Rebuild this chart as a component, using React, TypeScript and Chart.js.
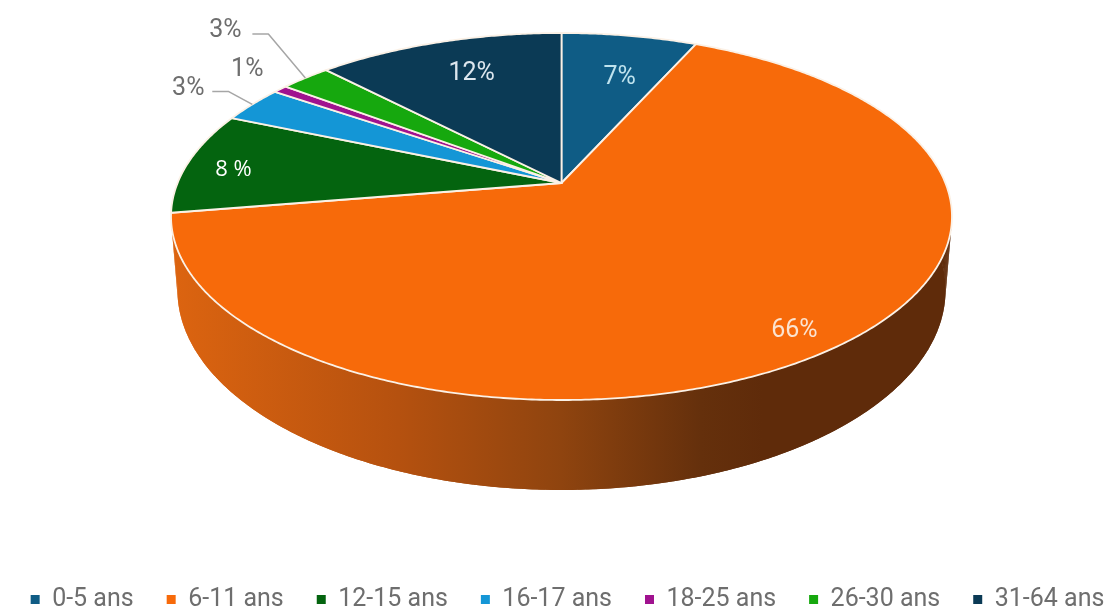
import React, { useEffect, useRef } from "react";
import { Chart, registerables } from "chart.js";

Chart.register(...registerables);

const categories = ["0-5 ans", "6-11 ans", "12-15 ans", "16-17 ans", "18-25 ans", "26-30 ans", "31-64 ans"];
const shares = [6.7, 65.7, 9.0, 3.2, 0.7, 2.5, 12.2];
const valueLabels = ["7%", "66%", "8 %", "3%", "1%", "3%", "12%"];
const sliceColors = ["#0F5C85", "#F76A0A", "#04640F", "#1496D6", "#A0128F", "#16A80E", "#0B3A55"];

// Text styling and offsets of each label from the middle of its slice's rim.
const labelColors = ["#BFE3EE", "#FBE3D0", "#FFFFFF", "#6E6E6E", "#6E6E6E", "#6E6E6E", "#DCE6EE"];
const labelOffsets = [[-10, 42], [-41, -17], [45, 7], [-64, -16], [-33, -19], [-80, -47], [33, 31]];
const leaderOffsets: Record<number, number[][]> = {
  3: [[0, 0], [-24, -13], [-40, -13]],
  5: [[0, 0], [-37, -44], [-53, -44]],
};

// Perspective projection of the unit disc onto the page.
const top3d = { cx: 561.5, a: 143.98, b: 183, c: -0.1826, d: 383.9 };
const bottom3d = { cx: 561.5, a: 147, b: 253.5, c: -0.1826, d: 377.6 };
const project = (p: typeof top3d, angle: number, r = 1) => {
  const u = Math.cos(angle) * r;
  const v = Math.sin(angle) * r;
  const w = 1 + p.c * v;
  return { x: p.cx + (p.d * u) / w, y: (p.a * v + p.b) / w };
};

const pie3d = {
  id: "pie3d",
  beforeDatasetsDraw(chart: any) {
    const { ctx } = chart;
    const arcs = chart.getDatasetMeta(0).data;
    const STEP = Math.PI / 360;

    // Side wall: only the part of each slice that faces the viewer
    const grad = ctx.createLinearGradient(173, 0, 949, 0);
    const stops: [number, string][] = [
      [0, "#DC6410"], [0.29, "#B5510F"], [0.5, "#8F440F"], [0.68, "#65300C"], [0.76, "#5F2B0A"], [1, "#5F2B0A"],
    ];
    stops.forEach(([o, col]) => grad.addColorStop(o, col));
    ctx.fillStyle = grad;
    arcs.forEach((arc: any) => {
      const { startAngle, endAngle } = arc.getProps(["startAngle", "endAngle"], true);
      const from = Math.max(startAngle, 0);
      const to = Math.min(endAngle, Math.PI);
      if (to <= from) return;
      // sweep: gives the straight silhouette between the two rims
      for (let t = from; t < to; t += STEP * 2) {
        const e = Math.min(t + STEP * 2, to);
        const a = project(top3d, t), b = project(top3d, e);
        const c = project(bottom3d, e), d = project(bottom3d, t);
        ctx.beginPath();
        ctx.moveTo(a.x, a.y);
        ctx.lineTo(b.x, b.y);
        ctx.lineTo(c.x, c.y);
        ctx.lineTo(d.x, d.y);
        ctx.closePath();
        ctx.fill();
      }
      // smooth body on top of the sweep
      ctx.beginPath();
      for (let t = from; t < to; t += STEP) {
        const q = project(top3d, t);
        if (t === from) ctx.moveTo(q.x, q.y);
        else ctx.lineTo(q.x, q.y);
      }
      const endTop = project(top3d, to);
      ctx.lineTo(endTop.x, endTop.y);
      for (let t = to; t > from; t -= STEP) {
        const q = project(bottom3d, t);
        ctx.lineTo(q.x, q.y);
      }
      const endBottom = project(bottom3d, from);
      ctx.lineTo(endBottom.x, endBottom.y);
      ctx.closePath();
      ctx.fill();
    });

    // Top face
    arcs.forEach((arc: any, i: number) => {
      const { startAngle, endAngle } = arc.getProps(["startAngle", "endAngle"], true);
      const o = project(top3d, 0, 0);
      ctx.beginPath();
      ctx.moveTo(o.x, o.y);
      for (let t = startAngle; t < endAngle; t += STEP) {
        const q = project(top3d, t);
        ctx.lineTo(q.x, q.y);
      }
      const q = project(top3d, endAngle);
      ctx.lineTo(q.x, q.y);
      ctx.closePath();
      ctx.fillStyle = sliceColors[i];
      ctx.fill();
      ctx.strokeStyle = "#FBF1E6";
      ctx.lineWidth = 1.8;
      ctx.lineJoin = "round";
      ctx.stroke();
    });

    // Labels
    arcs.forEach((arc: any, i: number) => {
      const { startAngle, endAngle } = arc.getProps(["startAngle", "endAngle"], true);
      const rim = project(top3d, (startAngle + endAngle) / 2);
      const leader = leaderOffsets[i];
      if (leader) {
        ctx.beginPath();
        leader.forEach(([dx, dy], k) => {
          if (k === 0) ctx.moveTo(rim.x + dx, rim.y + dy);
          else ctx.lineTo(rim.x + dx, rim.y + dy);
        });
        ctx.strokeStyle = "#A6A6A6";
        ctx.lineWidth = 1.5;
        ctx.stroke();
      }
      ctx.fillStyle = labelColors[i];
      ctx.textAlign = "center";
      ctx.textBaseline = "middle";
      ctx.font = i === 2 ? "22px 'Open Sans'" : "25px Roboto";
      ctx.fillText(valueLabels[i], rim.x + labelOffsets[i][0], rim.y + labelOffsets[i][1]);
    });
    return false;
  },
};

export default function App() {
  const ref = useRef<HTMLCanvasElement>(null);
  useEffect(() => {
    const chart = new Chart(ref.current!, {
      type: "pie",
      data: {
        labels: categories,
        datasets: [{ data: shares, backgroundColor: sliceColors, borderWidth: 0 }],
      },
      options: {
        responsive: false,
        animation: false,
        layout: { padding: { left: -10, right: -30, bottom: -10 } },
        plugins: {
          tooltip: { enabled: false },
          legend: {
            position: "bottom",
            labels: {
              boxWidth: 9,
              boxHeight: 9,
              padding: 33,
              color: "#6E6E6E",
              font: { family: "Roboto", size: 25 },
              generateLabels: () =>
                categories.map((text, i) => ({
                  text,
                  fillStyle: sliceColors[i],
                  strokeStyle: sliceColors[i],
                  lineWidth: 0,
                  fontColor: "#6E6E6E",
                  index: i,
                })),
            },
          },
        },
      },
      plugins: [pie3d],
    } as any);
    return () => chart.destroy();
  }, []);
  return (
    <canvas
      ref={ref}
      width={1115}
      height={612}
      style={{ position: "absolute", left: 0, top: 0, display: "block", background: "#fff" }}
    />
  );
}
